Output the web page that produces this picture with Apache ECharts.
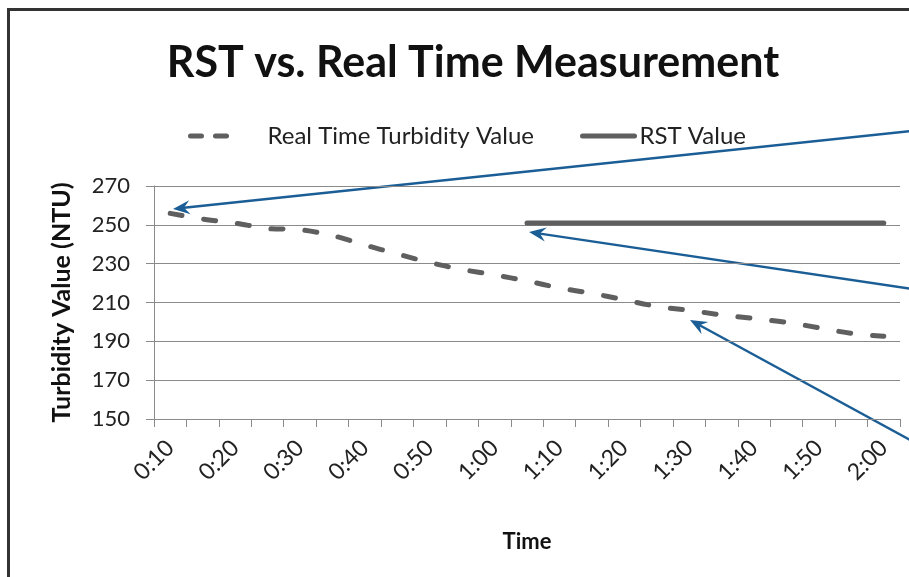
<!DOCTYPE html>
<html>
<head>
<meta charset="utf-8">
<script src="https://cdn.jsdelivr.net/npm/echarts@6/dist/echarts.min.js"></script>
<style>
  html, body { margin: 0; padding: 0; background: #fff; }
  #chart { width: 909px; height: 577px; }
</style>
</head>
<body>
<div id="chart"></div>
<script>
// time axis, every 5 minutes (labels show every other one)
const times = ['0:10', '0:15', '0:20', '0:25', '0:30', '0:35', '0:40', '0:45', '0:50', '0:55',
  '1:00', '1:05', '1:10', '1:15', '1:20', '1:25', '1:30', '1:35', '1:40', '1:45', '1:50', '1:55', '2:00']

// Real time turbidity (NTU)
const realTime = [255.9, 253.0, 250.9, 248.1, 247.5, 244.5, 239.6, 235.0, 230.6, 227.0, 224.2, 221.1,
  217.5, 214.7, 211.4, 208.0, 206.0, 203.6, 201.8, 199.8, 197.0, 194.1, 192.6]

// RST value, only measured from 1:05
const rst = [null, null, null, null, null, null, null, null, null, null, null,
  251, 251, 251, 251, 251, 251, 251, 251, 251, 251, 251, 251]

const yTicks = { min: 150, max: 270, step: 20 }

const font = 'Lato, "Open Sans", sans-serif'
const gridColor = '#8a8a8a'
const arrowColor = '#1b5e96'

// annotation arrow: line from (x1,y1) to tip (x2,y2) with a notched head
const arrow = (x1, y1, x2, y2) => {
  const dx = x2 - x1, dy = y2 - y1
  const len = Math.sqrt(dx * dx + dy * dy)
  const ux = dx / len, uy = dy / len
  const px = -uy, py = ux
  const hl = 17, hw = 7, notch = 11
  const bx = x2 - ux * hl, by = y2 - uy * hl
  return {
    type: 'group',
    children: [
      {
        type: 'line',
        shape: { x1: x1, y1: y1, x2: x2 - ux * notch, y2: y2 - uy * notch },
        style: { stroke: arrowColor, lineWidth: 2.5 }
      },
      {
        type: 'polygon',
        shape: {
          points: [[x2, y2], [bx + px * hw, by + py * hw],
            [x2 - ux * notch, y2 - uy * notch], [bx - px * hw, by - py * hw]]
        },
        style: { fill: arrowColor }
      }
    ]
  }
}

const chart = echarts.init(document.getElementById('chart'))
chart.setOption({
  backgroundColor: '#fff',
  animation: false,
  title: {
    text: 'RST vs. Real Time Measurement',
    left: 468,
    top: 37,
    textAlign: 'center',
    textStyle: { fontFamily: font, fontSize: 43, fontWeight: 'bold', color: '#111' }
  },
  legend: [
    {
      data: ['Real Time Turbidity Value'],
      left: 183,
      top: 119,
      itemWidth: 40,
      itemHeight: 14,
      itemStyle: { opacity: 0 },
      lineStyle: { type: [11, 14], width: 5, cap: 'round' },
      textStyle: { fontFamily: font, fontSize: 24, color: '#222', padding: [0, 0, 0, 32] }
    },
    {
      data: ['RST Value'],
      left: 575,
      top: 119,
      itemWidth: 52,
      itemHeight: 14,
      itemStyle: { opacity: 0 },
      lineStyle: { width: 5, cap: 'round' },
      textStyle: { fontFamily: font, fontSize: 24, color: '#222' }
    }
  ],
  grid: { left: 154, right: 9, top: 186, bottom: 158 },
  xAxis: {
    type: 'category',
    data: times,
    boundaryGap: true,
    name: 'Time',
    nameLocation: 'middle',
    nameGap: 112,
    nameTextStyle: { fontFamily: font, fontSize: 22, fontWeight: 'bold', color: '#111' },
    axisLine: { lineStyle: { color: gridColor, width: 1 } },
    axisTick: { show: true, interval: 0, length: 8, lineStyle: { color: gridColor } },
    axisLabel: {
      interval: 1,
      rotate: 45,
      margin: 25,
      fontFamily: font,
      fontSize: 23,
      color: '#222'
    }
  },
  yAxis: {
    type: 'value',
    min: yTicks.min,
    max: yTicks.max,
    interval: yTicks.step,
    name: 'Turbidity Value (NTU)',
    nameLocation: 'middle',
    nameGap: 80,
    nameTextStyle: { fontFamily: font, fontSize: 25, fontWeight: 'bold', color: '#111' },
    axisLine: { show: true, lineStyle: { color: gridColor, width: 1 } },
    axisTick: { show: true, length: 8, lineStyle: { color: gridColor } },
    axisLabel: { margin: 24, fontFamily: font, fontSize: 22, color: '#222' },
    splitLine: { lineStyle: { color: gridColor, width: 1 } }
  },
  series: [
    {
      name: 'Real Time Turbidity Value',
      type: 'line',
      data: realTime,
      smooth: 0.3,
      symbol: 'none',
      lineStyle: { color: '#5f5f5f', width: 5, type: [12, 22], cap: 'round' },
      itemStyle: { color: '#5f5f5f' }
    },
    {
      name: 'RST Value',
      type: 'line',
      data: rst,
      symbol: 'none',
      lineStyle: { color: '#5f5f5f', width: 5, cap: 'round' },
      itemStyle: { color: '#5f5f5f' }
    }
  ],
  graphic: [
    // frame
    { type: 'line', shape: { x1: 8.5, y1: 9.5, x2: 909, y2: 9.5 }, style: { stroke: '#333', lineWidth: 3 } },
    { type: 'line', shape: { x1: 8.5, y1: 8, x2: 8.5, y2: 577 }, style: { stroke: '#333', lineWidth: 3 } },
    // callout arrows from the right edge
    arrow(912, 131, 173, 209),
    arrow(912, 289, 529, 232),
    arrow(912, 441, 690, 320)
  ]
})
</script>
</body>
</html>
